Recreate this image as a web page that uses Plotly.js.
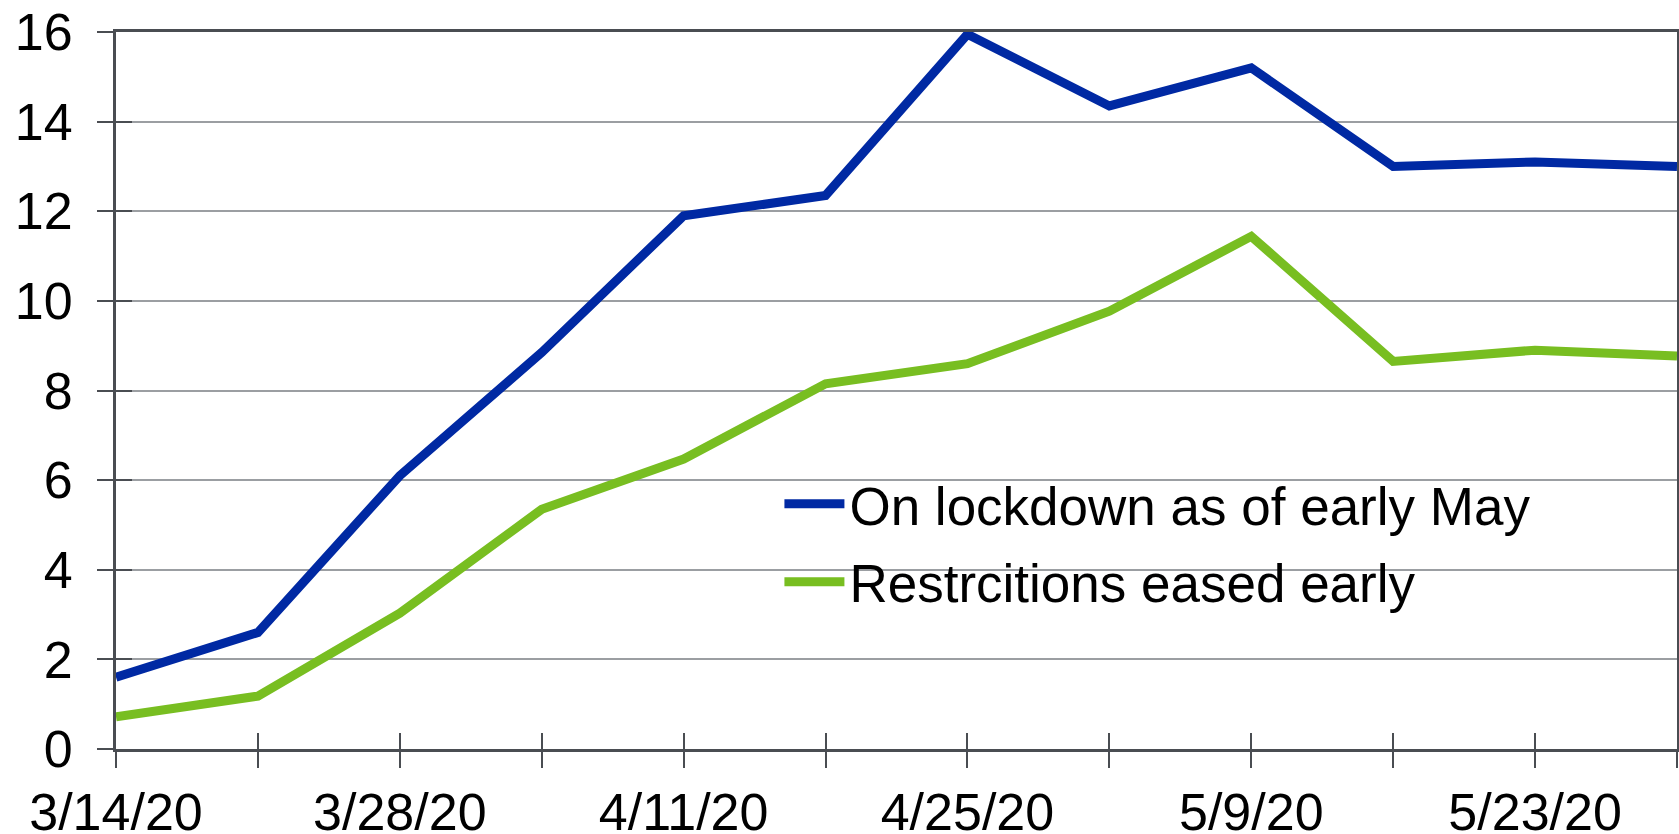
<!DOCTYPE html>
<html>
<head>
<meta charset="utf-8">
<script src="https://cdn.plot.ly/plotly-3.0.1.min.js"></script>
<style>html,body{margin:0;padding:0;background:#fff;}#chart{width:1679px;height:834px;}</style>
</head>
<body>
<div id="chart"></div>
<script>
const dates = ['2020-03-14','2020-03-21','2020-03-28','2020-04-04','2020-04-11','2020-04-18','2020-04-25','2020-05-02','2020-05-09','2020-05-16','2020-05-23','2020-05-30'];
const tickLabels = ['3/14/20','','3/28/20','','4/11/20','','4/25/20','','5/9/20','','5/23/20',''];
const lockdown = [1.6, 2.6, 6.1, 8.85, 11.9, 12.35, 15.95, 14.35, 15.2, 13.0, 13.1, 13.0];
const eased = [0.72, 1.18, 3.03, 5.35, 6.47, 8.15, 8.6, 9.77, 11.44, 8.65, 8.9, 8.77];
const seriesNames = ['On lockdown as of early May', 'Restrcitions eased early'];
const yTicks = [0,2,4,6,8,10,12,14,16];

const axisColor = '#4a4d52';
const font = 'Liberation Sans, Arial, sans-serif';

const traces = [
  {x: dates, y: lockdown, name: seriesNames[0], legendgroup: 'a', type: 'scatter', mode: 'lines',
   line: {color: '#0029a3', width: 9}, cliponaxis: false},
  {x: dates, y: eased, name: seriesNames[1], legendgroup: 'b', type: 'scatter', mode: 'lines',
   line: {color: '#78be21', width: 9}, cliponaxis: false},
  {x: [], y: [], xaxis: 'x2', yaxis: 'y2', showlegend: false, hoverinfo: 'skip', type: 'scatter'}
];

const xr = [dates[0], dates[dates.length-1]];
const layout = {
  width: 1679, height: 834,
  margin: {l: 116, r: 2, t: 32, b: 85},
  paper_bgcolor: '#fff', plot_bgcolor: '#fff',
  font: {family: font, color: '#000', size: 52},
  showlegend: true,
  legend: {x: 0.425, y: 0.399, xanchor: 'left', yanchor: 'top', bgcolor: 'rgba(0,0,0,0)',
           font: {family: font, size: 53, color: '#000'}, itemwidth: 60, tracegroupgap: 6},
  xaxis: {type: 'date', range: xr, tickmode: 'array', tickvals: dates, ticktext: tickLabels,
          ticks: 'outside', ticklen: 16, tickwidth: 2, tickcolor: axisColor,
          showline: true, linecolor: axisColor, linewidth: 3, mirror: true,
          showgrid: false, zeroline: false, tickfont: {size: 52}, automargin: false},
  yaxis: {range: [0, 16], tickmode: 'array', tickvals: yTicks,
          ticks: 'outside', ticklen: 16, tickwidth: 2, tickcolor: axisColor,
          showline: true, linecolor: axisColor, linewidth: 3, mirror: true,
          showgrid: true, gridcolor: '#9b9ea2', gridwidth: 2, zeroline: false,
          tickfont: {size: 52}, ticklabelstandoff: 14, automargin: false},
  xaxis2: {type: 'date', range: xr, overlaying: 'x', anchor: 'y', side: 'bottom',
           tickmode: 'array', tickvals: dates, showticklabels: false,
           ticks: 'inside', ticklen: 16, tickwidth: 2, tickcolor: axisColor,
           showline: false, showgrid: false, zeroline: false},
  yaxis2: {range: [0, 16], overlaying: 'y', anchor: 'x', side: 'left',
           tickmode: 'array', tickvals: yTicks, showticklabels: false,
           ticks: 'inside', ticklen: 16, tickwidth: 2, tickcolor: axisColor,
           showline: false, showgrid: false, zeroline: false}
};

Plotly.newPlot('chart', traces, layout, {displayModeBar: false, staticPlot: true});
</script>
</body>
</html>
